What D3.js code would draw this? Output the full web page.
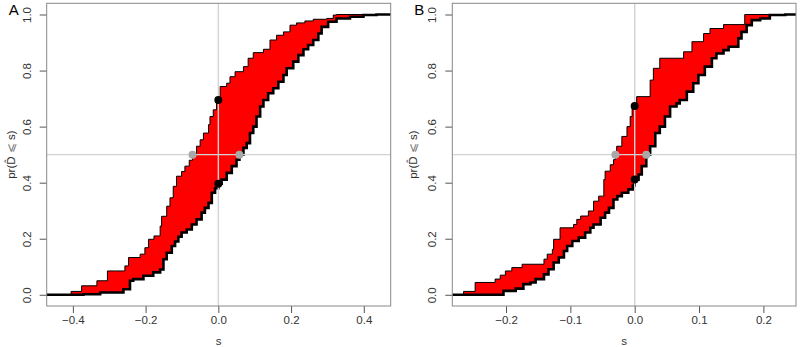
<!DOCTYPE html>
<html>
<head>
<meta charset="utf-8">
<script src="https://cdn.jsdelivr.net/npm/d3@7"></script>
<style>
  body { margin: 0; background: #fff; }
  svg { display: block; font-family: "Liberation Sans", Arial, sans-serif; }
</style>
</head>
<body>
<div id="chart"></div>
<script>
// ---- data (s, pr) ----
var upperA = [[-0.405,0.012],[-0.376,0.032],[-0.334,0.05],[-0.305,0.085],[-0.257,0.103],[-0.247,0.133],
  [-0.215,0.145],[-0.202,0.168],[-0.192,0.198],[-0.177,0.21],[-0.160,0.245],[-0.156,0.28],[-0.142,0.316],
  [-0.133,0.346],[-0.124,0.387],[-0.115,0.423],[-0.101,0.44],[-0.092,0.459],[-0.080,0.48],[-0.071,0.5],
  [-0.060,0.53],[-0.050,0.553],[-0.041,0.577],[-0.027,0.607],[-0.023,0.636],[-0.014,0.66],[-0.005,0.695],
  [0.005,0.743],[0.023,0.755],[0.032,0.778],[0.046,0.796],[0.069,0.814],[0.082,0.844],[0.096,0.864],
  [0.124,0.876],[0.142,0.909],[0.160,0.926],[0.179,0.938],[0.197,0.962],[0.215,0.97],[0.238,0.977],
  [0.261,0.983],[0.298,0.986],[0.316,0.998],[0.325,1.0]];
var lowerA = [[-0.371,0.002],[-0.325,0.008],[-0.261,0.02],[-0.243,0.05],[-0.234,0.056],[-0.206,0.068],
  [-0.179,0.08],[-0.160,0.09],[-0.151,0.127],[-0.142,0.15],[-0.128,0.174],[-0.119,0.19],[-0.110,0.207],
  [-0.101,0.222],[-0.087,0.233],[-0.073,0.251],[-0.060,0.269],[-0.046,0.293],[-0.037,0.31],[-0.027,0.328],
  [-0.018,0.364],[-0.009,0.38],[0.000,0.396],[0.009,0.411],[0.023,0.435],[0.037,0.459],[0.050,0.482],
  [0.058,0.5],[0.069,0.524],[0.078,0.541],[0.087,0.577],[0.096,0.6],[0.105,0.636],[0.115,0.672],
  [0.124,0.695],[0.137,0.719],[0.151,0.737],[0.165,0.76],[0.179,0.784],[0.188,0.808],[0.206,0.832],
  [0.220,0.855],[0.234,0.876],[0.247,0.891],[0.261,0.909],[0.275,0.932],[0.284,0.956],[0.302,0.974],
  [0.325,0.986],[0.362,0.992],[0.399,0.998],[0.435,1.0]];
var upperB = [[-0.266,0.012],[-0.248,0.044],[-0.217,0.056],[-0.209,0.070],[-0.201,0.085],[-0.191,0.097],
  [-0.175,0.109],[-0.141,0.127],[-0.136,0.145],[-0.128,0.162],[-0.126,0.198],[-0.116,0.239],[-0.095,0.251],
  [-0.090,0.269],[-0.084,0.281],[-0.072,0.299],[-0.064,0.334],[-0.056,0.352],[-0.048,0.411],[-0.046,0.441],
  [-0.038,0.464],[-0.033,0.482],[-0.030,0.5],[-0.028,0.53],[-0.020,0.565],[-0.012,0.60],[-0.007,0.636],
  [-0.004,0.674],[0.003,0.707],[0.024,0.766],[0.029,0.808],[0.039,0.844],[0.076,0.867],[0.089,0.903],
  [0.107,0.932],[0.117,0.950],[0.138,0.964],[0.171,1.0]];
var lowerB = [[-0.204,0.014],[-0.185,0.022],[-0.173,0.038],[-0.162,0.044],[-0.154,0.056],[-0.141,0.073],
  [-0.134,0.091],[-0.126,0.115],[-0.118,0.133],[-0.110,0.156],[-0.105,0.174],[-0.097,0.192],[-0.087,0.204],
  [-0.077,0.222],[-0.069,0.239],[-0.064,0.251],[-0.053,0.275],[-0.046,0.293],[-0.040,0.310],[-0.033,0.340],
  [-0.027,0.352],[-0.020,0.364],[-0.010,0.376],[-0.003,0.390],[0.000,0.411],[0.006,0.429],[0.011,0.459],
  [0.018,0.5],[0.024,0.530],[0.032,0.577],[0.039,0.600],[0.047,0.636],[0.055,0.672],[0.065,0.683],
  [0.070,0.695],[0.081,0.725],[0.091,0.755],[0.099,0.784],[0.109,0.814],[0.120,0.844],[0.127,0.861],
  [0.138,0.873],[0.146,0.885],[0.161,0.915],[0.166,0.938],[0.174,0.962],[0.182,0.980],[0.195,0.986],
  [0.210,0.998],[0.234,1.0]];

// points on the curves: at s = 0 (black) and at pr = 0.5 (grey)
var blackA = [[0, 0.695], [0, 0.396]];
var greyA = [[-0.071, 0.5], [0.058, 0.5]];
var blackB = [[0, 0.674], [0, 0.411]];
var greyB = [[-0.030, 0.5], [0.018, 0.5]];

var ticksA = [-0.4, -0.2, 0.0, 0.2, 0.4];
var ticksB = [-0.2, -0.1, 0.0, 0.1, 0.2];
var yTicks = [0, 0.2, 0.4, 0.6, 0.8, 1.0];

var panels = [
  {id: "A", upper: upperA, lower: lowerA, black: blackA, grey: greyA, ticks: ticksA,
   domain: [-0.472, 0.474], left: 46.7, right: 390.7, titleOff: 32},
  {id: "B", upper: upperB, lower: lowerB, black: blackB, grey: greyB, ticks: ticksB,
   domain: [-0.2835, 0.2507], left: 452.3, right: 796, titleOff: 35}
];

var width = 800, height = 347;
var plotTop = 3.3, plotBottom = 306;

var svg = d3.select("#chart").append("svg")
    .attr("width", width)
    .attr("height", height);

// turn ecdf jump points into step vertices
function stepPts(pts) {
    var out = [];
    pts.forEach(function(p, i) {
        if (i > 0) out.push([p[0], pts[i - 1][1]]);
        out.push(p);
    });
    return out;
}

panels.forEach(function(p) {
    var x = d3.scaleLinear().domain(p.domain).range([p.left, p.right]);
    var y = d3.scaleLinear().domain([-0.04, 1.04]).range([plotBottom, plotTop]);

    var g = svg.append("g");

    g.append("clipPath")
        .attr("id", "clip-" + p.id)
        .append("rect")
        .attr("x", p.left).attr("y", plotTop)
        .attr("width", p.right - p.left).attr("height", plotBottom - plotTop);

    var plot = g.append("g").attr("clip-path", "url(#clip-" + p.id + ")");

    var line = d3.line()
        .x(function(d) { return x(d[0]); })
        .y(function(d) { return y(d[1]); });

    var xmin = p.domain[0] - 0.05, xmax = p.domain[1] + 0.05;
    var up = stepPts([[xmin, 0]].concat(p.upper).concat([[xmax, 1]]));
    var lo = stepPts([[xmin, 0]].concat(p.lower).concat([[xmax, 1]]));

    // red band between the two curves
    plot.append("path")
        .attr("d", line(up.concat(lo.slice().reverse())) + "Z")
        .attr("fill", "#ff0000")
        .attr("stroke", "#000")
        .attr("stroke-width", 1)
        .attr("stroke-linejoin", "miter");

    plot.append("path")
        .attr("d", line(lo))
        .attr("fill", "none")
        .attr("stroke", "#000")
        .attr("stroke-width", 2.6);

    // reference lines
    plot.append("line")
        .attr("x1", x(0)).attr("x2", x(0))
        .attr("y1", plotTop).attr("y2", plotBottom)
        .attr("stroke", "#d3d3d3").attr("stroke-width", 1.4);
    plot.append("line")
        .attr("x1", p.left).attr("x2", p.right)
        .attr("y1", y(0.5)).attr("y2", y(0.5))
        .attr("stroke", "#d3d3d3").attr("stroke-width", 1.4);

    plot.selectAll(".grey-pt").data(p.grey).enter().append("circle")
        .attr("cx", function(d) { return x(d[0]); })
        .attr("cy", function(d) { return y(d[1]); })
        .attr("r", 4)
        .attr("fill", "#a9a9a9");

    plot.selectAll(".black-pt").data(p.black).enter().append("circle")
        .attr("cx", function(d) { return x(d[0]); })
        .attr("cy", function(d) { return y(d[1]); })
        .attr("r", 4)
        .attr("fill", "#000");

    // axes
    var xAxis = d3.axisBottom(x).tickValues(p.ticks).tickSize(7).tickPadding(3)
        .tickFormat(d3.format(".1f"));
    var gx = g.append("g")
        .attr("transform", "translate(0," + plotBottom + ")")
        .call(xAxis);
    gx.select(".domain").remove();

    var yAxis = d3.axisLeft(y).tickValues(yTicks).tickSize(7).tickFormat(d3.format(".1f"));
    var gy = g.append("g")
        .attr("transform", "translate(" + p.left + ",0)")
        .call(yAxis);
    gy.select(".domain").remove();
    gy.selectAll(".tick text")
        .attr("x", null).attr("dy", null)
        .attr("transform", "translate(-20,0) rotate(-90)")
        .attr("text-anchor", "middle")
        .attr("dominant-baseline", "central");

    g.selectAll(".tick line").attr("stroke", "#555");
    g.selectAll(".tick text")
        .attr("fill", "#333")
        .attr("font-size", 11.5)
        .attr("font-family", "Liberation Sans, Arial, sans-serif");

    g.append("rect")
        .attr("x", p.left).attr("y", plotTop)
        .attr("width", p.right - p.left).attr("height", plotBottom - plotTop)
        .attr("fill", "none")
        .attr("stroke", "#888")
        .attr("stroke-width", 1);

    g.append("text")
        .attr("x", (p.left + p.right) / 2)
        .attr("y", 345)
        .attr("text-anchor", "middle")
        .attr("font-size", 11.5)
        .attr("fill", "#333")
        .text("s");

    var title = g.append("text")
        .attr("transform", "translate(" + (p.left - p.titleOff) + "," + ((plotTop + plotBottom) / 2) + ") rotate(-90)")
        .attr("text-anchor", "middle")
        .attr("font-size", 11.5)
        .attr("fill", "#333");
    title.append("tspan").text("pr(D\u0302 ");
    title.append("tspan").attr("fill", "#777").text("\u2A7D");
    title.append("tspan").text(" s)");

    g.append("text")
        .attr("x", p.left - 33)
        .attr("y", 15)
        .attr("text-anchor", "middle")
        .attr("font-size", 15)
        .attr("fill", "#000")
        .text(p.id);
});
</script>
</body>
</html>
